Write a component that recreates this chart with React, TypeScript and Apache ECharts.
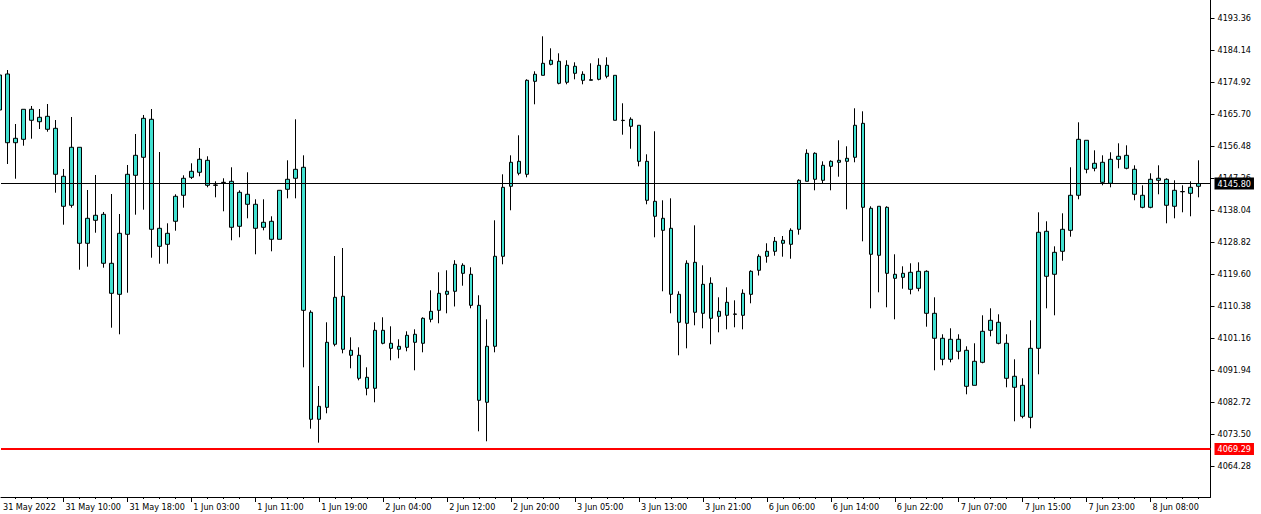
import React, { useEffect, useRef } from "react";
import * as echarts from "echarts";

// Hourly candles; the first one (bar -1) is partly cut at the left edge
const opens = [
  4167.00, 4177.37, 4157.57, 4158.55, 4167.20, 4163.62, 4165.18, 4161.72, 4147.89, 4139.54,
  4156.25, 4128.59, 4135.22, 4136.94, 4122.83, 4113.89, 4131.18, 4148.18, 4153.37, 4164.32,
  4132.91, 4128.30, 4134.93, 4142.42, 4147.60, 4149.05, 4152.50, 4145.30, 4146.08, 4146.45,
  4133.49, 4142.71, 4139.83, 4133.20, 4134.93, 4129.74, 4144.15, 4147.32, 4150.49, 4108.71,
  4077.88, 4081.33, 4099.49, 4113.32, 4097.76, 4096.32, 4089.98, 4086.81, 4103.52, 4099.78,
  4098.05, 4098.62, 4102.37, 4099.78, 4106.69, 4109.28, 4113.89, 4114.76, 4122.25, 4119.66,
  4110.72, 4082.78, 4098.91, 4124.84, 4145.01, 4152.21, 4148.47, 4175.26, 4176.99, 4180.16,
  4181.03, 4174.98, 4179.59, 4177.28, 4175.55, 4175.84, 4179.88, 4176.99, 4164.03, 4164.32,
  4162.59, 4152.21, 4140.69, 4135.79, 4132.91, 4113.89, 4105.54, 4123.11, 4108.42, 4117.06,
  4107.55, 4111.59, 4108.13, 4107.84, 4113.89, 4120.81, 4124.84, 4126.28, 4129.45, 4128.30,
  4132.62, 4146.45, 4154.52, 4146.74, 4150.77, 4151.93, 4152.21, 4153.37, 4163.16, 4138.67,
  4125.13, 4138.96, 4119.66, 4118.79, 4120.23, 4115.62, 4120.52, 4108.42, 4101.22, 4095.17,
  4100.93, 4097.76, 4087.67, 4094.30, 4103.52, 4105.83, 4099.78, 4090.27, 4087.67, 4078.45,
  4098.33, 4132.05, 4119.66, 4126.28, 4132.33, 4142.42, 4158.27, 4150.20, 4151.93, 4145.88,
  4152.79, 4153.94, 4149.91, 4142.42, 4138.96, 4146.74, 4147.03, 4139.25, 4143.43, 4142.99,
  4145.01,
];
const closes = [
  4177.08, 4157.57, 4158.84, 4167.20, 4164.03, 4164.89, 4161.44, 4148.47, 4139.25, 4156.25,
  4128.59, 4135.79, 4136.66, 4122.83, 4114.18, 4131.47, 4148.47, 4153.94, 4164.60, 4132.62,
  4127.72, 4131.47, 4142.13, 4147.32, 4149.33, 4152.79, 4145.30, 4145.39, 4146.16, 4133.20,
  4143.28, 4139.83, 4132.91, 4134.64, 4129.74, 4143.86, 4147.03, 4149.91, 4109.28, 4077.88,
  4081.62, 4100.06, 4113.03, 4098.05, 4096.32, 4089.69, 4086.81, 4103.52, 4099.78, 4098.33,
  4098.91, 4102.08, 4100.06, 4106.98, 4108.99, 4114.18, 4114.76, 4122.54, 4119.94, 4110.72,
  4083.35, 4098.91, 4124.84, 4144.72, 4151.93, 4148.76, 4175.55, 4177.28, 4180.45, 4181.32,
  4174.69, 4179.88, 4177.57, 4175.55, 4175.73, 4179.88, 4176.71, 4164.03, 4163.95, 4162.30,
  4152.21, 4140.98, 4136.37, 4132.33, 4113.89, 4105.83, 4122.83, 4108.71, 4116.77, 4106.98,
  4108.99, 4107.84, 4108.22, 4114.18, 4120.52, 4124.84, 4126.28, 4129.16, 4128.59, 4132.33,
  4146.74, 4154.52, 4147.03, 4151.06, 4152.21, 4152.50, 4153.08, 4162.59, 4138.96, 4125.42,
  4139.25, 4119.94, 4118.50, 4119.94, 4115.33, 4120.52, 4108.42, 4101.22, 4095.17, 4100.93,
  4097.47, 4087.38, 4094.59, 4103.23, 4106.40, 4099.78, 4089.69, 4087.10, 4078.74, 4098.33,
  4131.76, 4119.08, 4125.99, 4132.62, 4142.42, 4158.55, 4149.91, 4151.64, 4146.16, 4152.79,
  4153.66, 4150.20, 4142.71, 4138.96, 4147.03, 4147.32, 4139.54, 4143.86, 4143.51, 4144.72,
  4145.80,
];
const lows = [
  4165.56, 4151.44, 4147.20, 4156.71, 4158.73, 4161.52, 4160.74, 4143.17, 4133.95, 4138.85,
  4120.98, 4121.85, 4131.64, 4121.56, 4104.27, 4102.37, 4114.35, 4136.83, 4138.27, 4124.44,
  4122.71, 4122.71, 4132.22, 4138.85, 4147.11, 4147.89, 4144.72, 4141.84, 4137.81, 4129.45,
  4130.32, 4135.79, 4125.42, 4132.33, 4126.28, 4129.74, 4141.55, 4141.55, 4092.86, 4075.17,
  4071.14, 4079.61, 4098.91, 4096.89, 4092.57, 4089.11, 4084.79, 4082.78, 4099.49, 4094.88,
  4095.45, 4097.47, 4091.99, 4097.18, 4105.83, 4105.54, 4108.42, 4110.38, 4116.37, 4109.86,
  4074.42, 4071.54, 4097.18, 4122.54, 4138.10, 4148.18, 4147.60, 4168.64, 4176.99, 4179.88,
  4174.40, 4174.40, 4175.84, 4174.40, 4175.55, 4175.55, 4176.13, 4164.03, 4159.88, 4155.84,
  4150.77, 4139.83, 4130.32, 4114.76, 4108.42, 4096.32, 4098.33, 4104.96, 4104.10, 4099.49,
  4102.94, 4103.81, 4104.39, 4103.81, 4111.30, 4119.31, 4123.00, 4125.01, 4124.73, 4124.15,
  4131.07, 4146.45, 4143.86, 4145.88, 4143.86, 4147.78, 4138.38, 4151.93, 4129.16, 4109.86,
  4114.47, 4110.15, 4106.69, 4115.51, 4113.89, 4114.76, 4104.56, 4091.99, 4093.44, 4094.30,
  4095.17, 4085.08, 4087.67, 4094.01, 4101.79, 4099.49, 4087.10, 4077.30, 4078.17, 4075.28,
  4090.84, 4109.86, 4107.84, 4123.57, 4130.49, 4141.27, 4148.76, 4149.33, 4145.30, 4144.72,
  4150.20, 4149.91, 4140.98, 4138.67, 4138.67, 4142.71, 4134.35, 4135.79, 4137.52, 4136.37,
  4141.84,
];
const highs = [
  4178.52, 4178.52, 4162.96, 4167.20, 4168.15, 4167.28, 4168.72, 4164.11, 4150.00, 4164.98,
  4156.25, 4143.95, 4148.27, 4137.61, 4142.79, 4137.03, 4151.15, 4160.08, 4165.56, 4167.28,
  4154.89, 4134.35, 4142.71, 4148.18, 4151.64, 4156.05, 4153.66, 4146.45, 4147.32, 4150.49,
  4143.86, 4149.05, 4141.27, 4141.27, 4136.37, 4143.86, 4152.50, 4164.32, 4153.94, 4109.28,
  4087.47, 4105.83, 4124.93, 4127.23, 4101.50, 4098.62, 4092.86, 4105.83, 4107.27, 4104.67,
  4100.93, 4103.23, 4103.81, 4107.27, 4115.05, 4120.23, 4120.81, 4123.72, 4122.83, 4121.67,
  4113.61, 4106.69, 4135.22, 4148.47, 4153.94, 4159.71, 4175.84, 4178.15, 4188.23, 4184.77,
  4183.33, 4181.32, 4180.74, 4178.15, 4180.45, 4181.89, 4182.18, 4176.99, 4168.93, 4164.89,
  4162.59, 4154.23, 4160.86, 4140.98, 4141.55, 4114.76, 4123.69, 4133.77, 4122.25, 4118.79,
  4113.03, 4115.91, 4112.16, 4115.33, 4120.81, 4125.42, 4128.59, 4130.40, 4130.69, 4132.91,
  4147.03, 4155.67, 4154.81, 4152.21, 4152.50, 4158.27, 4156.54, 4167.49, 4166.62, 4139.25,
  4139.25, 4139.25, 4125.42, 4121.96, 4122.83, 4123.11, 4120.81, 4113.03, 4102.37, 4104.10,
  4102.37, 4098.91, 4099.78, 4107.84, 4109.86, 4108.13, 4102.37, 4095.17, 4089.69, 4106.40,
  4137.52, 4134.93, 4127.72, 4137.23, 4150.49, 4163.45, 4158.27, 4155.38, 4153.94, 4154.81,
  4157.40, 4156.82, 4151.06, 4145.30, 4148.76, 4151.06, 4147.32, 4146.74, 4145.30, 4146.45,
  4152.50,
];

// Time-axis labels: [bar number, label]; bar -1 is the cut first bar
const timeLabels: [number, string][] = [
  [-1, "31 May 2022"], [7, "31 May 10:00"], [15, "31 May 18:00"], [23, "1 Jun 03:00"],
  [31, "1 Jun 11:00"], [39, "1 Jun 19:00"], [47, "2 Jun 04:00"], [55, "2 Jun 12:00"],
  [63, "2 Jun 20:00"], [71, "3 Jun 05:00"], [79, "3 Jun 13:00"], [87, "3 Jun 21:00"],
  [95, "6 Jun 06:00"], [103, "6 Jun 14:00"], [111, "6 Jun 22:00"], [119, "7 Jun 07:00"],
  [127, "7 Jun 15:00"], [135, "7 Jun 23:00"], [143, "8 Jun 08:00"],
];

const priceTicks = [
  4193.36, 4184.14, 4174.92, 4165.70, 4156.48, 4147.26, 4138.04, 4128.82,
  4119.60, 4110.38, 4101.16, 4091.94, 4082.72, 4073.50, 4064.28,
];
const bidPrice = 4145.8;
const levelPrice = 4069.29;
const yMin = 4055.49;
const yMax = 4198.69;
// visible bar range of the time axis
const xMin = -0.8125;
const xMax = 150.5;

const FONT = "'DejaVu Sans Condensed', 'Liberation Sans', sans-serif";

export default function App() {
  const ref = useRef<HTMLDivElement>(null);
  useEffect(() => {
    if (!ref.current) return;
    const chart = echarts.init(ref.current, undefined, { renderer: "svg" });
    const data = opens.map((o, i) => [i - 1, o, closes[i], lows[i], highs[i]]);
    const labelMap = new Map<number, string>();
    timeLabels.forEach(([k, s]) => labelMap.set(k < xMin ? xMin : k, s));
    const labelValues = Array.from(labelMap.keys());
    const majorTicks = timeLabels.map(([k]) => k).filter((k) => k >= xMin);
    const minorTicks: number[] = [];
    for (let k = 1; k <= 149; k += 2) if (!majorTicks.includes(k)) minorTicks.push(k);

    chart.setOption({
      animation: false,
      backgroundColor: "#ffffff",
      grid: { left: 0, right: 50.5, top: 0, bottom: 17, containLabel: false },
      xAxis: [
        {
          type: "value",
          min: xMin,
          max: xMax,
          position: "bottom",
          axisLine: { show: true, onZero: false, lineStyle: { color: "#000000", width: 1 } },
          axisTick: {
            show: true,
            length: 5,
            customValues: majorTicks,
            lineStyle: { color: "#000000", width: 1 },
          },
          axisLabel: {
            show: true,
            customValues: labelValues,
            formatter: (v: number) => labelMap.get(v) ?? "",
            align: "left",
            margin: 5,
            padding: [0, 0, 0, 2],
            color: "#000000",
            fontSize: 9,
            fontFamily: FONT,
          },
          splitLine: { show: false },
        },
        {
          type: "value",
          min: xMin,
          max: xMax,
          position: "bottom",
          axisLine: { show: false, onZero: false },
          axisTick: {
            show: true,
            length: 2,
            customValues: minorTicks,
            lineStyle: { color: "#000000", width: 1 },
          },
          axisLabel: { show: false },
          splitLine: { show: false },
        },
      ],
      yAxis: {
        type: "value",
        position: "right",
        min: yMin,
        max: yMax,
        axisLine: { show: true, onZero: false, lineStyle: { color: "#000000", width: 1 } },
        axisTick: {
          show: true,
          length: 4,
          customValues: priceTicks,
          lineStyle: { color: "#000000", width: 1 },
        },
        axisLabel: {
          show: true,
          customValues: priceTicks,
          formatter: (v: number) => v.toFixed(2),
          color: "#000000",
          fontSize: 9,
          fontFamily: FONT,
          margin: 7,
        },
        splitLine: { show: false },
      },
      series: [
        {
          type: "candlestick",
          data,
          encode: { x: 0, y: [1, 2, 3, 4] },
          barWidth: 4,
          clip: true,
          itemStyle: {
            color: "#40E0D0",
            color0: "#40E0D0",
            borderColor: "#000000",
            borderColor0: "#000000",
            borderWidth: 1,
          },
          markLine: {
            silent: true,
            symbol: ["none", "none"],
            animation: false,
            data: [
              {
                yAxis: bidPrice,
                lineStyle: { color: "#000000", width: 1, type: "solid" },
                label: {
                  show: true,
                  position: "end",
                  distance: 4,
                  formatter: () => bidPrice.toFixed(2),
                  color: "#ffffff",
                  backgroundColor: "#000000",
                  padding: [2, 3, 1, 3],
                  fontSize: 9,
                  fontFamily: FONT,
                },
              },
              {
                yAxis: levelPrice,
                lineStyle: { color: "#ff0000", width: 2, type: "solid" },
                label: {
                  show: true,
                  position: "end",
                  distance: 4,
                  formatter: () => levelPrice.toFixed(2),
                  color: "#ffffff",
                  backgroundColor: "#ff0000",
                  padding: [2, 3, 1, 3],
                  fontSize: 9,
                  fontFamily: FONT,
                },
              },
            ],
          },
        },
      ],
    });
    return () => chart.dispose();
  }, []);

  return (
    <div
      ref={ref}
      style={{ position: "fixed", left: 0, top: 0, width: 1261, height: 514, background: "#ffffff" }}
    />
  );
}
